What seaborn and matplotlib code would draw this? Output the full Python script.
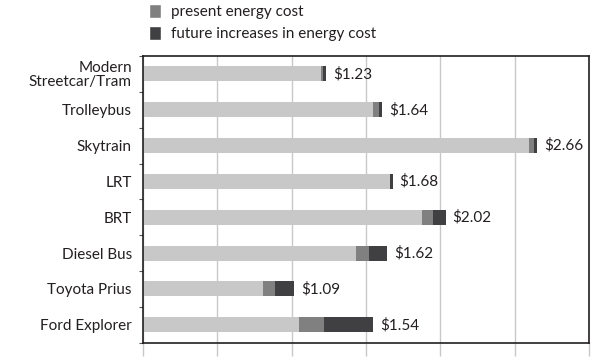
import numpy as np
import pandas as pd
import matplotlib
matplotlib.use("Agg")
import matplotlib.pyplot as plt
from matplotlib.patches import Patch
import seaborn as sns

# values (dollars)
modes = ["Modern\nStreetcar/Tram", "Trolleybus", "Skytrain", "LRT", "BRT",
         "Diesel Bus", "Toyota Prius", "Ford Explorer"]
base_cost = [1.20, 1.55, 2.60, 1.66, 1.88, 1.43, 0.81, 1.05]
present_energy = [0.01, 0.04, 0.03, 0.005, 0.07, 0.09, 0.075, 0.17]
future_energy = [0.02, 0.02, 0.02, 0.015, 0.085, 0.12, 0.13, 0.33]
total_labels = ["$1.23", "$1.64", "$2.66", "$1.68", "$2.02", "$1.62", "$1.09", "$1.54"]

LIGHT = "#c8c8c8"
MID = "#808080"
DARK = "#404042"

sns.set_style("white")
plt.rcParams["font.family"] = ["Lato", "DejaVu Sans"]

df = pd.DataFrame({"mode": modes, "base": base_cost,
                   "present": present_energy, "future": future_energy})
df["with_present"] = df["base"] + df["present"]
df["total"] = df["with_present"] + df["future"]

fig = plt.figure(figsize=(6.1, 3.6), dpi=100)
ax = fig.add_axes([0.2344, 0.048, 0.7311, 0.7964])

# stack by overdrawing: total -> base+present -> base
for col, colour in [("total", DARK), ("with_present", MID), ("base", LIGHT)]:
    sns.barplot(data=df, x=col, y="mode", orient="h", color=colour,
                width=0.42, saturation=1, linewidth=0, ax=ax)

for i, (tot, lab) in enumerate(zip(df["total"], total_labels)):
    ax.annotate(lab, xy=(tot, i), xytext=(5, 0), textcoords="offset points",
                va="center", ha="left", fontsize=11, color="#231f20")

ax.set_xlim(0, 3.0)
ax.set_ylim(7.5, -0.5)
ax.set_xticks(np.arange(0, 3.01, 0.5))
ax.set_xticklabels([])
ax.xaxis.grid(True, color="#c8c8c8", linewidth=1)
ax.set_axisbelow(True)
ax.tick_params(axis="x", direction="out", length=9, color="#c8c8c8", width=1,
               bottom=True)
ax.set_yticks(np.arange(len(modes)))
ax.set_yticklabels(modes, fontsize=11, color="#231f20", linespacing=0.95)
ax.tick_params(axis="y", length=0, pad=8)
ax.set_yticks(np.arange(-0.5, 7.6, 1), minor=True)
ax.tick_params(axis="y", which="minor", left=True, direction="out",
               length=3, color="#555555", width=0.8)
ax.set_xlabel("")
ax.set_ylabel("")
for sp in ax.spines.values():
    sp.set_visible(True)
    sp.set_color("#231f20")
    sp.set_linewidth(1.2)

handles = [Patch(facecolor=MID, label="present energy cost"),
           Patch(facecolor=DARK, label="future increases in energy cost")]
fig.legend(handles=handles, loc="upper left", bbox_to_anchor=(0.244, 0.988),
           frameon=False, fontsize=11, handlelength=0.8, handleheight=1.0,
           handletextpad=0.65, labelspacing=0.45, borderaxespad=0,
           borderpad=0, labelcolor="#231f20")

fig.savefig("out.png", dpi=100)
